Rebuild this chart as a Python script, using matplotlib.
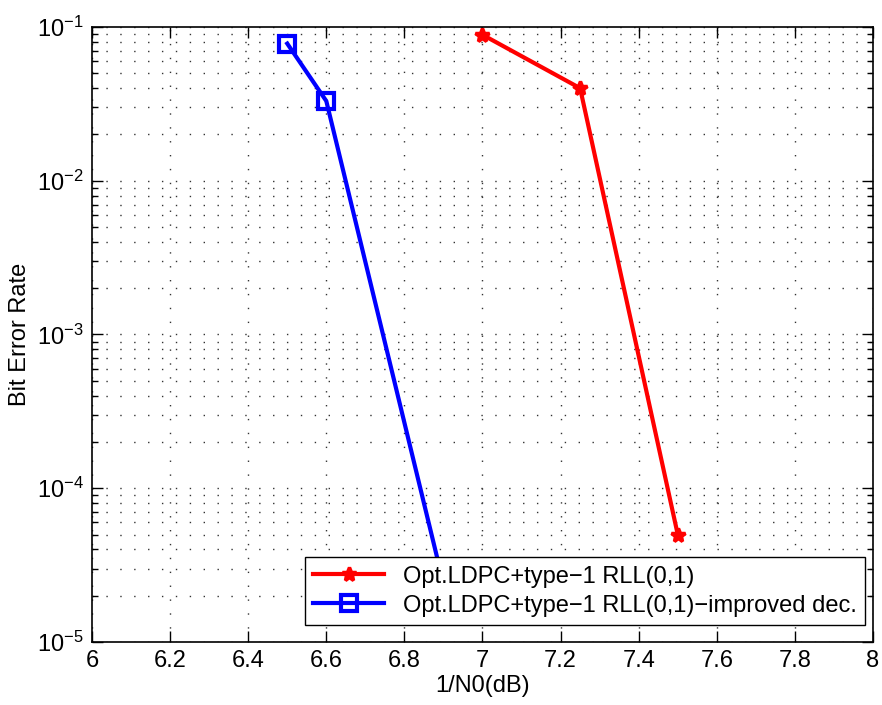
import numpy as np
import matplotlib
matplotlib.use('Agg')
import matplotlib.pyplot as plt
from matplotlib.ticker import LogLocator, NullFormatter

plt.rcParams['font.family'] = ['Liberation Sans', 'DejaVu Sans']
plt.rcParams['mathtext.default'] = 'regular'

# BER curves vs 1/N0
snr_rll = [7.0, 7.25, 7.5]
ber_rll = [0.089, 0.040, 5.0e-5]

snr_improved = [6.5, 6.6, 6.9]
ber_improved = [0.078, 0.033, 2.4e-5]

labels = ['Opt.LDPC+type\u22121 RLL(0,1)',
          'Opt.LDPC+type\u22121 RLL(0,1)\u2212improved dec.']
xticks = [6, 6.2, 6.4, 6.6, 6.8, 7, 7.2, 7.4, 7.6, 7.8, 8]

fs = 17

fig = plt.figure(figsize=(8.82, 7.05), dpi=100)
ax = fig.add_axes([0.1043, 0.0894, 0.8855, 0.8723])

ax.semilogy(snr_rll, ber_rll, color='red', lw=3, marker='*',
            markersize=10, markeredgewidth=2.5, label=labels[0])
ax.semilogy(snr_improved, ber_improved, color='blue', lw=3, marker='s',
            markersize=11, markerfacecolor='none', markeredgewidth=3,
            label=labels[1])

ax.set_xlim(6, 8)
ax.set_ylim(1e-5, 1e-1)
ax.set_xticks(xticks)
ax.set_xticklabels([f'{v:g}' for v in xticks])
ax.yaxis.set_major_locator(LogLocator(base=10, numticks=10))
ax.yaxis.set_minor_locator(LogLocator(base=10, subs=np.arange(2, 10), numticks=10))
ax.yaxis.set_minor_formatter(NullFormatter())

dots = (0, (1, 9))
ax.grid(True, which='major', axis='both', linestyle=dots, color='#333333', lw=1)
ax.grid(True, which='minor', axis='y', linestyle=dots, color='#333333', lw=1)

ax.tick_params(which='both', direction='in', top=True, right=True, labelsize=fs)
ax.tick_params(which='major', length=8, width=1, pad=6)
ax.tick_params(which='minor', length=4, width=1)
for s in ax.spines.values():
    s.set_linewidth(1.2)

ax.set_xlabel('1/N0(dB)', fontsize=fs, labelpad=2)
ax.set_ylabel('Bit Error Rate', fontsize=fs, labelpad=4)

leg = ax.legend(loc='lower right', bbox_to_anchor=(0.9898, 0.0276),
                fontsize=fs, fancybox=False, framealpha=1, edgecolor='black',
                handlelength=3.0, borderaxespad=0, borderpad=0.35,
                labelspacing=0.3, handletextpad=0.8)
leg.get_frame().set_linewidth(1.0)

fig.savefig('out.png', dpi=100)
